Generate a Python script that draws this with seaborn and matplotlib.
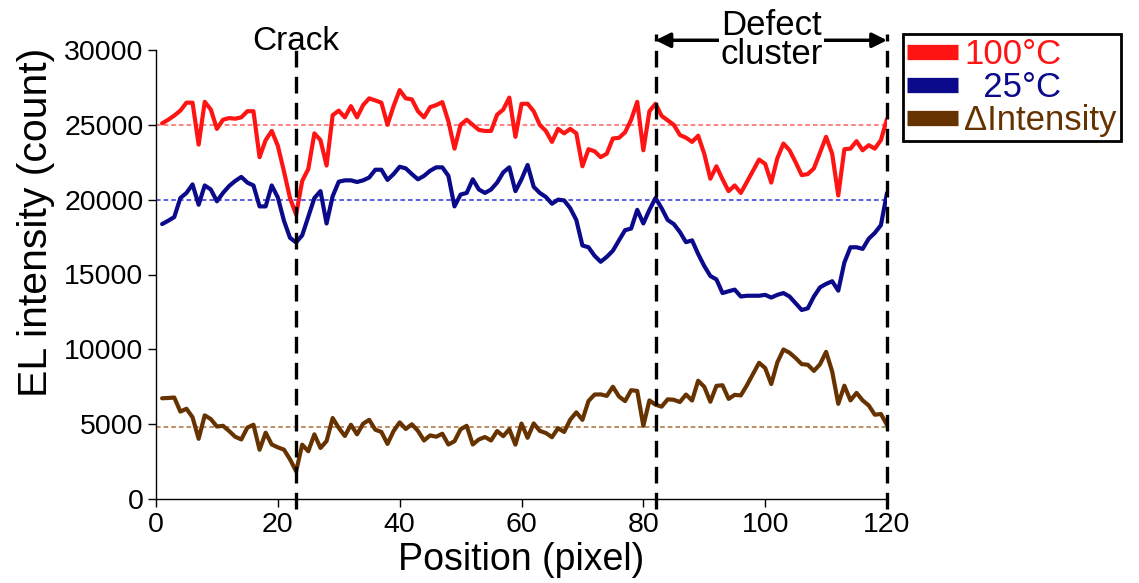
import matplotlib
matplotlib.use("Agg")
import matplotlib.pyplot as plt
from matplotlib.lines import Line2D
import pandas as pd
import seaborn as sns

# EL intensity profiles along the line scan (counts per pixel position)
positions = list(range(1, 121))

intensity_100c = [
    25100, 25340, 25620, 25950, 26480, 26480, 23680, 26540, 26020, 24730,
    25340, 25450, 25410, 25500, 25910, 25910, 22840, 23980, 24590, 23600,
    21900, 20100, 19000, 21250, 22050, 24430, 23980, 22280, 25640, 25950,
    25500, 26250, 25500, 26320, 26770, 26630, 26480, 25000, 26250, 27320,
    26770, 26700, 25910, 25500, 26180, 26320, 26520, 25230, 23410, 25000,
    25340, 25000, 24660, 24590, 24590, 25680, 26020, 26820, 24200, 26400,
    26410, 25910, 25000, 24590, 23860, 24730, 24430, 24730, 24430, 22230,
    23370, 23230, 22840, 23070, 24090, 24130, 24500, 25340, 26540, 23300,
    25910, 26410, 25600, 25300, 25000, 24320, 24140, 23860, 24270, 23070,
    21400, 22230, 21360, 20570, 20950, 20450, 21180, 21930, 22680, 22390,
    21140, 22770, 23750, 23300, 22500, 21640, 21710, 22090, 23140, 24200,
    23070, 20280, 23370, 23410, 23910, 23300, 23640, 23410, 23980, 25400,
]

intensity_25c = [
    18370, 18590, 18840, 20110, 20450, 21020, 19660, 20950, 20680, 19890,
    20450, 20910, 21250, 21520, 21140, 20950, 19550, 19550, 20950, 20150,
    18600, 17450, 17150, 17620, 18860, 20110, 20570, 18410, 20230, 21200,
    21290, 21290, 21180, 21290, 21480, 22000, 22000, 21320, 21710, 22200,
    22090, 21710, 21360, 21590, 21930, 22160, 22160, 21590, 19550, 20340,
    20450, 21360, 20680, 20450, 20680, 21140, 21820, 22160, 20570, 21360,
    22320, 20860, 20450, 20180, 19730, 20000, 19950, 19430, 18640, 16940,
    16820, 16250, 15850, 16180, 16590, 17280, 17960, 18070, 19320, 18410,
    19320, 20110, 19430, 18640, 18370, 17840, 17160, 17280, 16370, 15570,
    14900, 14670, 13760, 13880, 13990, 13530, 13580, 13580, 13580, 13640,
    13460, 13640, 13760, 13530, 13080, 12630, 12740, 13530, 14140, 14370,
    14550, 13920, 15800, 16820, 16820, 16710, 17390, 17780, 18300, 20450,
]

# Intensity difference between the two temperatures
delta_intensity = [hot - cold for hot, cold in zip(intensity_100c, intensity_25c)]

series_labels = ["100°C", "  25°C", "ΔIntensity"]
series_colors = ["#FF1414", "#0A0A8A", "#663300"]
level_colors = ["#FF6060", "#3030E0", "#A8703A"]
reference_levels = [25000, 20000, 4800]

crack_position = 23
cluster_bounds = [82, 120]

x_ticks = [0, 20, 40, 60, 80, 100, 120]
y_ticks = [0, 5000, 10000, 15000, 20000, 25000, 30000]

df = pd.DataFrame({
    "position": positions,
    "100C": intensity_100c,
    "25C": intensity_25c,
    "delta": delta_intensity,
})

sns.set_style("ticks")
plt.rcParams["font.family"] = ["Liberation Sans", "DejaVu Sans"]

W, H = 1139, 583
fig = plt.figure(figsize=(W / 100, H / 100), dpi=100)
ax = fig.add_axes([156 / W, 84 / H, (887 - 156) / W, (499 - 50) / H])

# horizontal guide levels
for lvl, c in zip(reference_levels, level_colors):
    ax.axhline(lvl, color=c, lw=1.1, linestyle=(0, (3, 2)), zorder=1)

for col, c in zip(["100C", "25C", "delta"], series_colors):
    sns.lineplot(data=df, x="position", y=col, color=c, lw=3, ax=ax,
                 zorder=3, legend=False)

ax.set_xlim(0, 120)
ax.set_ylim(0, 30000)
ax.set_xticks(x_ticks)
ax.set_yticks(y_ticks)
sns.despine(ax=ax)
for s in ["left", "bottom"]:
    ax.spines[s].set_color("black")
    ax.spines[s].set_linewidth(1.0)
ax.tick_params(axis="both", direction="out", length=6, width=1,
               colors="black", labelsize=20.5, pad=3)

ax.set_xlabel("Position (pixel)", fontsize=27, labelpad=3, color="black")
ax.set_ylabel("EL intensity (count)", fontsize=29.5, color="black")
ax.yaxis.set_label_coords(-0.1375, 0.615)

# crack marker
ax.plot([crack_position, crack_position], [-700, 30100], color="black",
        lw=2.4, dashes=(5, 2.8), clip_on=False, zorder=4)
ax.text(crack_position, 30550, "Crack", ha="center", va="center",
        fontsize=24, color="black", clip_on=False)

# defect cluster markers
for b in cluster_bounds:
    ax.plot([b, b], [-700, 31100], color="black", lw=2.4, dashes=(5, 2.8),
            clip_on=False, zorder=4)
ax.annotate("", xy=(cluster_bounds[0], 30650), xytext=(cluster_bounds[1], 30650),
            arrowprops=dict(arrowstyle="<|-|>", color="black", lw=2.5,
                            mutation_scale=22, shrinkA=0, shrinkB=0),
            annotation_clip=False, zorder=5)
ax.text(sum(cluster_bounds) / 2, 30650, "Defect\ncluster", ha="center",
        va="center", fontsize=25, linespacing=0.85, color="black",
        bbox=dict(fc="white", ec="none", pad=1), clip_on=False, zorder=6)

handles = [Line2D([], [], color=c, lw=11, solid_capstyle="butt")
           for c in series_colors]
leg = fig.legend(handles, series_labels, loc="upper left",
                 bbox_to_anchor=(903 / W, 1 - 34 / H), fontsize=25,
                 frameon=True, fancybox=False, edgecolor="black",
                 handlelength=1.45, handletextpad=0.2, borderpad=0.12,
                 labelspacing=0.0, borderaxespad=0, labelcolor=series_colors)
leg.get_frame().set_linewidth(2)
leg.get_frame().set_alpha(1)

fig.savefig("out.png", dpi=100)
